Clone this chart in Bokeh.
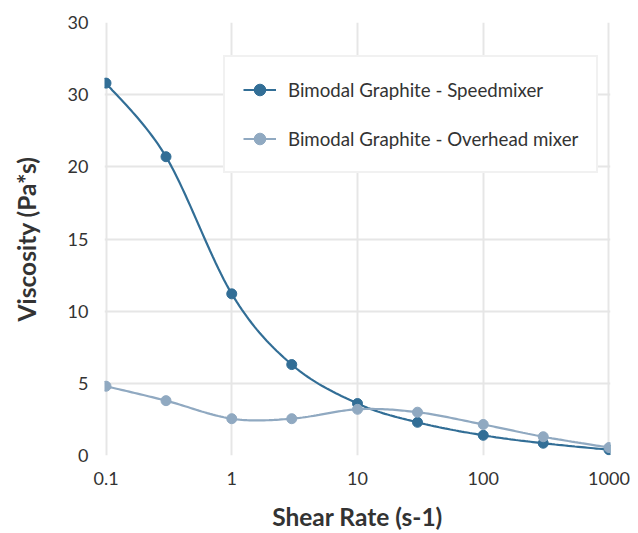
import numpy as np
from bokeh.plotting import figure
from bokeh.models import FixedTicker, Range1d, Legend, LegendItem
from bokeh.embed import file_html
from bokeh.resources import INLINE

shear_rate = [0.1, 0.3, 1, 3, 10, 30, 100, 300, 1000]
speedmixer = [25.8, 20.7, 11.2, 6.3, 3.6, 2.3, 1.4, 0.85, 0.4]
overhead = [4.8, 3.8, 2.55, 2.55, 3.2, 3.0, 2.15, 1.3, 0.55]
x_ticks = [0.1, 1, 10, 100, 1000]
x_tick_labels = ["0.1", "1", "10", "100", "1000"]
y_ticks = [0, 5, 10, 15, 20, 25, 30]
y_tick_labels = ["0", "5", "10", "15", "20", "30", "30"]

names = ["Bimodal Graphite - Speedmixer", "Bimodal Graphite - Overhead mixer"]
colors = ["#326e96", "#90a9c1"]

FONT = "Lato"


def smooth(xs, ys, n=24):
    u = np.log10(np.asarray(xs, float))
    v = np.asarray(ys, float)
    P = np.column_stack([u, v])
    out = []
    for i in range(len(P) - 1):
        p0 = P[i - 1] if i > 0 else P[i]
        p1 = P[i]
        p2 = P[i + 1]
        p3 = P[i + 2] if i + 2 < len(P) else P[i + 1]
        c1 = p1 + (p2 - p0) / 6.0
        c2 = p2 - (p3 - p1) / 6.0
        t = np.linspace(0, 1, n, endpoint=(i == len(P) - 2))[:, None]
        seg = (1 - t) ** 3 * p1 + 3 * (1 - t) ** 2 * t * c1 + 3 * (1 - t) * t ** 2 * c2 + t ** 3 * p2
        out.append(seg)
    pts = np.vstack(out)
    return 10 ** pts[:, 0], pts[:, 1]


p = figure(width=638, height=533, x_axis_type="log",
           x_range=Range1d(10 ** -1.012, 10 ** 3.012), y_range=Range1d(0, 30),
           output_backend="svg", toolbar_location=None,
           min_border_left=104, min_border_right=28, min_border_top=22, min_border_bottom=78)
p.outline_line_color = None
p.background_fill_color = "white"
p.border_fill_color = "white"

items = []
for name, ys, c in zip(names, [speedmixer, overhead], colors):
    sx, sy = smooth(shear_rate, ys)
    r1 = p.line(sx, sy, line_color=c, line_width=2.2)
    r2 = p.scatter(shear_rate, ys, size=10, fill_color=c, line_color=c)
    items.append(LegendItem(label=name, renderers=[r1, r2]))

legend = Legend(items=items, location=(119, 282))
legend.label_text_font = FONT
legend.label_text_font_size = "18.7px"
legend.label_text_color = "#333333"
legend.border_line_color = "#e3e3e3"
legend.border_line_width = 2
legend.padding = 18
legend.spacing = 20
legend.glyph_height = 29
legend.glyph_width = 33
legend.label_standoff = 12
legend.margin = 0
legend.background_fill_alpha = 1
p.add_layout(legend)

for ax in (p.xaxis, p.yaxis):
    ax.axis_line_color = None
    ax.major_tick_line_color = None
    ax.minor_tick_line_color = None
    ax.major_label_text_font = FONT
    ax.major_label_text_font_size = "18px"
    ax.major_label_text_color = "#333333"
    ax.axis_label_text_font = FONT
    ax.axis_label_text_font_size = "24.5px"
    ax.axis_label_text_font_style = "bold"
    ax.axis_label_text_color = "#333333"

p.xaxis.ticker = FixedTicker(ticks=x_ticks)
p.xaxis.major_label_overrides = {t: l for t, l in zip(x_ticks, x_tick_labels)}
p.yaxis.ticker = FixedTicker(ticks=y_ticks)
p.yaxis.major_label_overrides = {t: l for t, l in zip(y_ticks, y_tick_labels)}
p.xaxis.axis_label = "Shear Rate (s-1)"
p.yaxis.axis_label = "Viscosity (Pa*s)"
p.xaxis.major_label_standoff = 10
p.xaxis.axis_label_standoff = 14
p.yaxis.major_label_standoff = 10
p.yaxis.axis_label_standoff = 24

p.xgrid.ticker = FixedTicker(ticks=x_ticks)
p.ygrid.ticker = FixedTicker(ticks=y_ticks)
for g in (p.xgrid, p.ygrid):
    g.grid_line_color = "#e6e6e6"
    g.grid_line_width = 2

open("out.html", "w").write(file_html(p, INLINE))
